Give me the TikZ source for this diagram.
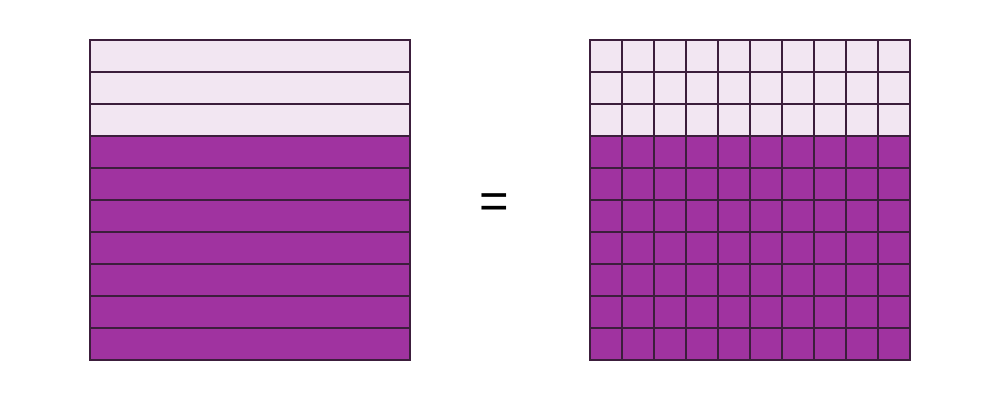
\documentclass[tikz,border=0pt]{standalone}
\usepackage{fontspec}
\setmainfont{Liberation Sans}
\definecolor{lightp}{HTML}{F2E6F2}
\definecolor{darkp}{HTML}{A033A0}
\definecolor{gridc}{HTML}{3C1E3C}
\begin{document}
\begin{tikzpicture}[x=0.025cm,y=-0.025cm,
  gridline/.style={draw=gridc,line width=0.9pt}]
\useasboundingbox (0,0) rectangle (1000,400);
% left square
\fill[lightp] (90,40) rectangle (410,136);
\fill[darkp] (90,136) rectangle (410,360);
\foreach \i in {1,...,9} \draw[gridline] (90,40+32*\i) -- (410,40+32*\i);
\draw[gridline] (90,40) rectangle (410,360);
% right square
\fill[lightp] (590,40) rectangle (910,136);
\fill[darkp] (590,136) rectangle (910,360);
\foreach \i in {1,...,9} {
  \draw[gridline] (590,40+32*\i) -- (910,40+32*\i);
  \draw[gridline] (590+32*\i,40) -- (590+32*\i,360);
}
\draw[gridline] (590,40) rectangle (910,360);
\node (eq) at (494.5,206.5) {\fontsize{36}{40}\selectfont =};
\end{tikzpicture}
\end{document}
